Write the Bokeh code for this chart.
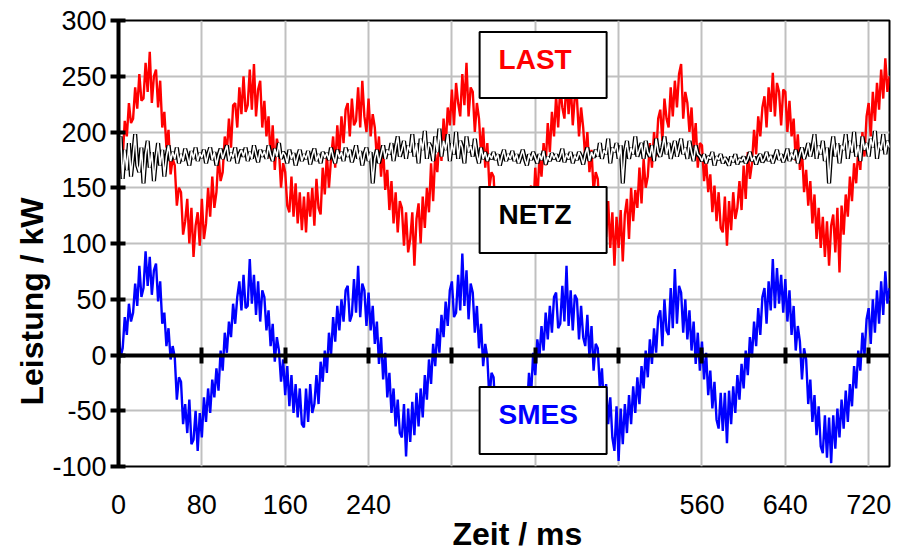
from bokeh.plotting import figure
from bokeh.models import Range1d, FixedTicker, LinearAxis, BoxAnnotation, Label, Title
from bokeh.embed import file_html
from bokeh.resources import INLINE

# Sample times (ms), one sample every 2 ms
time_ms = list(range(0, 741, 2))

# Load power (kW)
last_kw = [
    198, 163, 176, 210, 196, 226, 208, 212, 240, 221,
    252, 228, 230, 262, 236, 272, 226, 250, 256, 222,
    246, 204, 218, 186, 202, 162, 176, 170, 134, 150,
    146, 108, 120, 140, 100, 132, 88, 116, 128, 98,
    140, 104, 118, 150, 124, 160, 132, 146, 180, 156,
    164, 196, 182, 212, 186, 224, 226, 204, 240, 216,
    250, 218, 224, 256, 220, 261, 214, 238, 246, 204,
    228, 196, 214, 176, 206, 166, 194, 184, 150, 172,
    164, 134, 128, 160, 124, 154, 118, 146, 112, 142,
    110, 146, 124, 150, 116, 158, 132, 126, 168, 144,
    180, 150, 176, 196, 168, 206, 180, 214, 190, 220,
    226, 196, 230, 206, 210, 240, 204, 246, 214, 200,
    230, 196, 216, 204, 176, 196, 160, 186, 148, 166,
    130, 156, 118, 146, 110, 138, 132, 98, 128, 92,
    104, 128, 80, 122, 136, 100, 142, 114, 150, 128,
    172, 138, 180, 164, 194, 174, 212, 186, 222, 206,
    238, 206, 244, 226, 214, 252, 224, 262, 214, 240,
    236, 200, 226, 212, 180, 204, 168, 190, 150, 164,
    160, 126, 144, 114, 138, 132, 104, 130, 96, 126,
    94, 128, 106, 134, 98, 140, 118, 144, 152, 126,
    168, 138, 178, 160, 190, 170, 208, 182, 218, 196,
    232, 204, 240, 222, 212, 248, 216, 244, 206, 232,
    230, 196, 222, 204, 176, 200, 164, 184, 146, 164,
    158, 124, 150, 118, 106, 138, 96, 128, 80, 124,
    96, 130, 84, 126, 140, 104, 150, 120, 148, 132,
    168, 136, 176, 150, 160, 190, 168, 200, 178, 212,
    220, 192, 230, 212, 204, 240, 214, 246, 222, 252,
    261, 212, 236, 226, 200, 222, 186, 208, 168, 190,
    188, 156, 174, 146, 162, 128, 152, 120, 146, 114,
    110, 142, 98, 138, 112, 146, 122, 132, 156, 130,
    170, 140, 182, 158, 172, 202, 180, 214, 196, 222,
    232, 204, 240, 218, 253, 214, 244, 236, 206, 238,
    236, 200, 228, 196, 212, 174, 198, 166, 184, 146,
    166, 134, 156, 118, 144, 104, 132, 96, 124, 88,
    120, 80, 116, 126, 92, 132, 74, 134, 108, 144,
    124, 160, 138, 172, 154, 184, 166, 200, 178, 214,
    226, 196, 236, 210, 244, 220, 256, 230, 266, 236,
    250,
]

# Grid power (kW)
netz_kw = [
    172, 196, 158, 184, 166, 190, 160, 178, 198, 170,
    164, 186, 154, 180, 192, 168, 182, 156, 176, 190,
    170, 184, 160, 178, 188, 174, 182, 176, 186, 172,
    180, 174, 185, 178, 170, 183, 176, 186, 174, 181,
    177, 184, 172, 180, 186, 175, 182, 170, 179, 185,
    176, 182, 188, 174, 181, 177, 186, 172, 180, 184,
    178, 186, 174, 182, 176, 188, 180, 173, 184, 178,
    183, 176, 188, 180, 174, 185, 178, 190, 176, 182,
    179, 172, 184, 176, 181, 170, 178, 184, 174, 180,
    176, 183, 171, 179, 185, 174, 180, 172, 182, 177,
    181, 175, 186, 178, 172, 184, 177, 182, 174, 186,
    178, 184, 173, 180, 188, 176, 183, 170, 180, 186,
    174, 182, 154, 176, 184, 172, 180, 188, 176, 184,
    180, 190, 174, 186, 196, 178, 184, 192, 176, 188,
    182, 198, 178, 190, 172, 194, 184, 201, 176, 190,
    186, 174, 196, 182, 203, 178, 192, 184, 198, 174,
    190, 180, 200, 176, 192, 186, 172, 196, 182, 188,
    178, 194, 180, 172, 186, 176, 182, 174, 180, 176,
    182, 175, 180, 170, 178, 184, 174, 180, 176, 183,
    174, 180, 172, 178, 184, 176, 170, 180, 175, 182,
    177, 172, 180, 175, 183, 171, 178, 174, 181, 176,
    180, 174, 178, 185, 173, 180, 176, 182, 172, 179,
    175, 182, 178, 171, 180, 186, 174, 182, 177, 184,
    178, 190, 176, 184, 180, 194, 172, 186, 182, 190,
    176, 188, 154, 182, 192, 176, 186, 180, 196, 178,
    184, 190, 176, 192, 182, 178, 188, 174, 194, 182,
    178, 186, 196, 180, 190, 176, 184, 192, 178, 186,
    194, 180, 186, 176, 192, 182, 174, 188, 180, 178,
    174, 180, 172, 178, 176, 182, 170, 178, 175, 180,
    172, 177, 174, 170, 178, 173, 180, 171, 176, 174,
    178, 172, 176, 182, 174, 178, 171, 177, 180, 173,
    176, 182, 174, 179, 172, 178, 184, 175, 180, 173,
    178, 185, 174, 181, 176, 184, 172, 180, 186, 176,
    182, 190, 178, 186, 198, 176, 188, 180, 192, 174,
    186, 154, 182, 196, 178, 190, 172, 188, 184, 198,
    176, 192, 182, 200, 178, 188, 174, 196, 184, 190,
    178, 194, 186, 201, 176, 190, 184, 198, 180, 192,
    186,
]

# Storage (SMES) power (kW)
smes_kw = [
    28, -2, 6, 34, 18, 46, 30, 38, 64, 44,
    80, 52, 60, 93, 62, 88, 54, 76, 82, 48,
    66, 28, 38, 8, 24, -4, 8, -2, -40, -20,
    -24, -62, -44, -70, -40, -80, -76, -50, -86, -52,
    -74, -38, -60, -30, -52, -22, -38, -12, -32, 4,
    -14, 20, 2, 30, 16, 46, 28, 52, 66, 40,
    72, 42, 44, 86, 46, 72, 36, 66, 30, 58,
    52, 22, 40, 8, 28, -6, 16, 4, -24, -4,
    -36, -10, -46, -18, -52, -26, -56, -30, -62, -65,
    -30, -60, -26, -52, -44, -18, -44, -6, -24, 4,
    -16, 20, 0, 34, 12, 44, 22, 50, 30, 58,
    62, 30, 36, 68, 38, 80, 34, 64, 58, 26,
    56, 22, 44, 10, 30, -8, 16, -22, 2, -38,
    -16, -52, -30, -64, -40, -70, -74, -44, -91, -48,
    -78, -42, -72, -34, -64, -30, -56, -18, -40, -4,
    -26, 10, -10, 24, 2, 36, 16, 48, 26, 58,
    66, 34, 38, 72, 40, 91, 44, 76, 32, 64,
    56, 20, 44, 6, 28, -10, 10, -2, -40, -16,
    -20, -56, -32, -66, -40, -72, -78, -46, -80, -44,
    -78, -44, -72, -38, -64, -28, -50, -16, -36, 2,
    -18, 14, -2, 26, 4, 38, 14, 44, 20, 52,
    56, 24, 28, 62, 30, 80, 26, 58, 22, 54,
    50, 14, 44, 16, 8, 36, -2, 26, -14, 10,
    6, -30, -12, -48, -26, -62, -38, -74, -86, -46,
    -95, -48, -80, -44, -70, -36, -62, -28, -52, -20,
    -44, -10, -30, 4, -20, 14, -8, 24, 2, 34,
    40, 8, 50, 22, 18, 60, 24, 77, 28, 62,
    56, 20, 50, 14, 40, 4, 30, -8, 20, -14,
    12, -22, 2, -36, -14, -48, -24, -58, -66, -34,
    -68, -34, -79, -32, -62, -28, -52, -18, -40, -8,
    -30, 4, -18, 16, -2, 30, 8, 42, 18, 52,
    60, 28, 66, 40, 86, 42, 78, 46, 72, 38,
    68, 30, 58, 18, 44, 4, 26, 12, -22, 6,
    -4, -44, -22, -60, -36, -72, -46, -82, -88, -54,
    -92, -56, -97, -54, -84, -48, -74, -40, -66, -32,
    -60, -26, -46, -10, -30, 4, -14, 20, 0, 32,
    42, 10, 50, 20, 58, 28, 66, 36, 75, 46,
    60,
]

x_label_ticks = [0, 80, 160, 240, 560, 640, 720]
x_grid_ticks = [0, 80, 160, 240, 320, 400, 480, 560, 640, 720]
y_ticks = [-100, -50, 0, 50, 100, 150, 200, 250, 300]

FONT = "Liberation Sans"

p = figure(
    width=911, height=551,
    x_range=Range1d(0, 740), y_range=Range1d(-100, 300),
    output_backend="svg", toolbar_location=None,
    min_border_left=118, min_border_right=22,
    min_border_top=20, min_border_bottom=85,
)
p.background_fill_color = "white"
p.border_fill_color = "white"
p.outline_line_color = "black"
p.outline_line_width = 2

# light grey grid
p.xgrid.ticker = FixedTicker(ticks=x_grid_ticks)
p.ygrid.ticker = FixedTicker(ticks=y_ticks)
for g in (p.xgrid[0], p.ygrid[0]):
    g.grid_line_color = "#c0c0c0"
    g.grid_line_width = 2

# bottom axis: tick labels only
xa = p.xaxis[0]
xa.ticker = FixedTicker(ticks=x_label_ticks)
xa.axis_line_color = None
xa.major_tick_line_color = None
xa.minor_tick_line_color = None
xa.major_tick_in = 0
xa.major_tick_out = 0
xa.major_label_standoff = 28
xa.major_label_text_font = FONT
xa.major_label_text_font_size = "27px"
xa.major_label_text_color = "black"

# left axis
ya = p.yaxis[0]
ya.ticker = FixedTicker(ticks=y_ticks)
ya.axis_line_width = 4
ya.axis_line_color = "black"
ya.major_tick_line_width = 4
ya.major_tick_in = 7
ya.major_tick_out = 8
ya.minor_tick_line_color = None
ya.major_label_standoff = 4
ya.major_label_text_font = FONT
ya.major_label_text_font_size = "27px"
ya.major_label_text_color = "black"
ya.major_label_overrides = {-100: "-100", -50: "-50"}

# series
p.line(time_ms, last_kw, line_color="#ff0000", line_width=2.4)
p.line(time_ms, netz_kw, line_color="black", line_width=4.2)
p.line(time_ms, netz_kw, line_color="white", line_width=1.6)
p.line(time_ms, smes_kw, line_color="#0000ff", line_width=2.4)

# time axis crossing at zero power (its panel sits above, it is drawn at y = 0)
za = LinearAxis(fixed_location=0, ticker=FixedTicker(ticks=x_grid_ticks))
za.axis_line_width = 4
za.axis_line_color = "black"
za.major_tick_line_width = 4
za.major_tick_in = 8
za.major_tick_out = 8
za.minor_tick_line_color = None
za.major_label_text_font_size = "0px"
za.major_label_text_color = None
za.major_label_standoff = 0
p.add_layout(za, "above")

# series name boxes
boxes = [
    ("LAST", "#ff0000", 289.7, 230.5, 265.0),
    ("NETZ", "black", 150.7, 91.5, 125.6),
    ("SMES", "#0000ff", -28.7, -88.8, -53.8),
]
for name, color, top, bottom, ty in boxes:
    p.add_layout(BoxAnnotation(left=346.6, right=468.5, top=top, bottom=bottom,
                               fill_color="white", fill_alpha=1.0,
                               line_color="black", line_width=2, line_alpha=1.0))
    p.add_layout(Label(x=364.8, y=ty, text=name, text_color=color,
                       text_font=FONT, text_font_style="bold", text_font_size="28px",
                       text_align="left", text_baseline="middle"))

# axis titles
p.add_layout(Title(text="Leistung / kW", align="left", offset=61, standoff=0,
                   text_font=FONT, text_font_style="bold", text_font_size="32px",
                   text_color="black"), "left")
p.add_layout(Title(text="Zeit / ms", align="left", offset=334, standoff=-6,
                   text_font=FONT, text_font_style="bold", text_font_size="32px",
                   text_color="black"), "below")

open("out.html", "w").write(file_html(p, INLINE))
